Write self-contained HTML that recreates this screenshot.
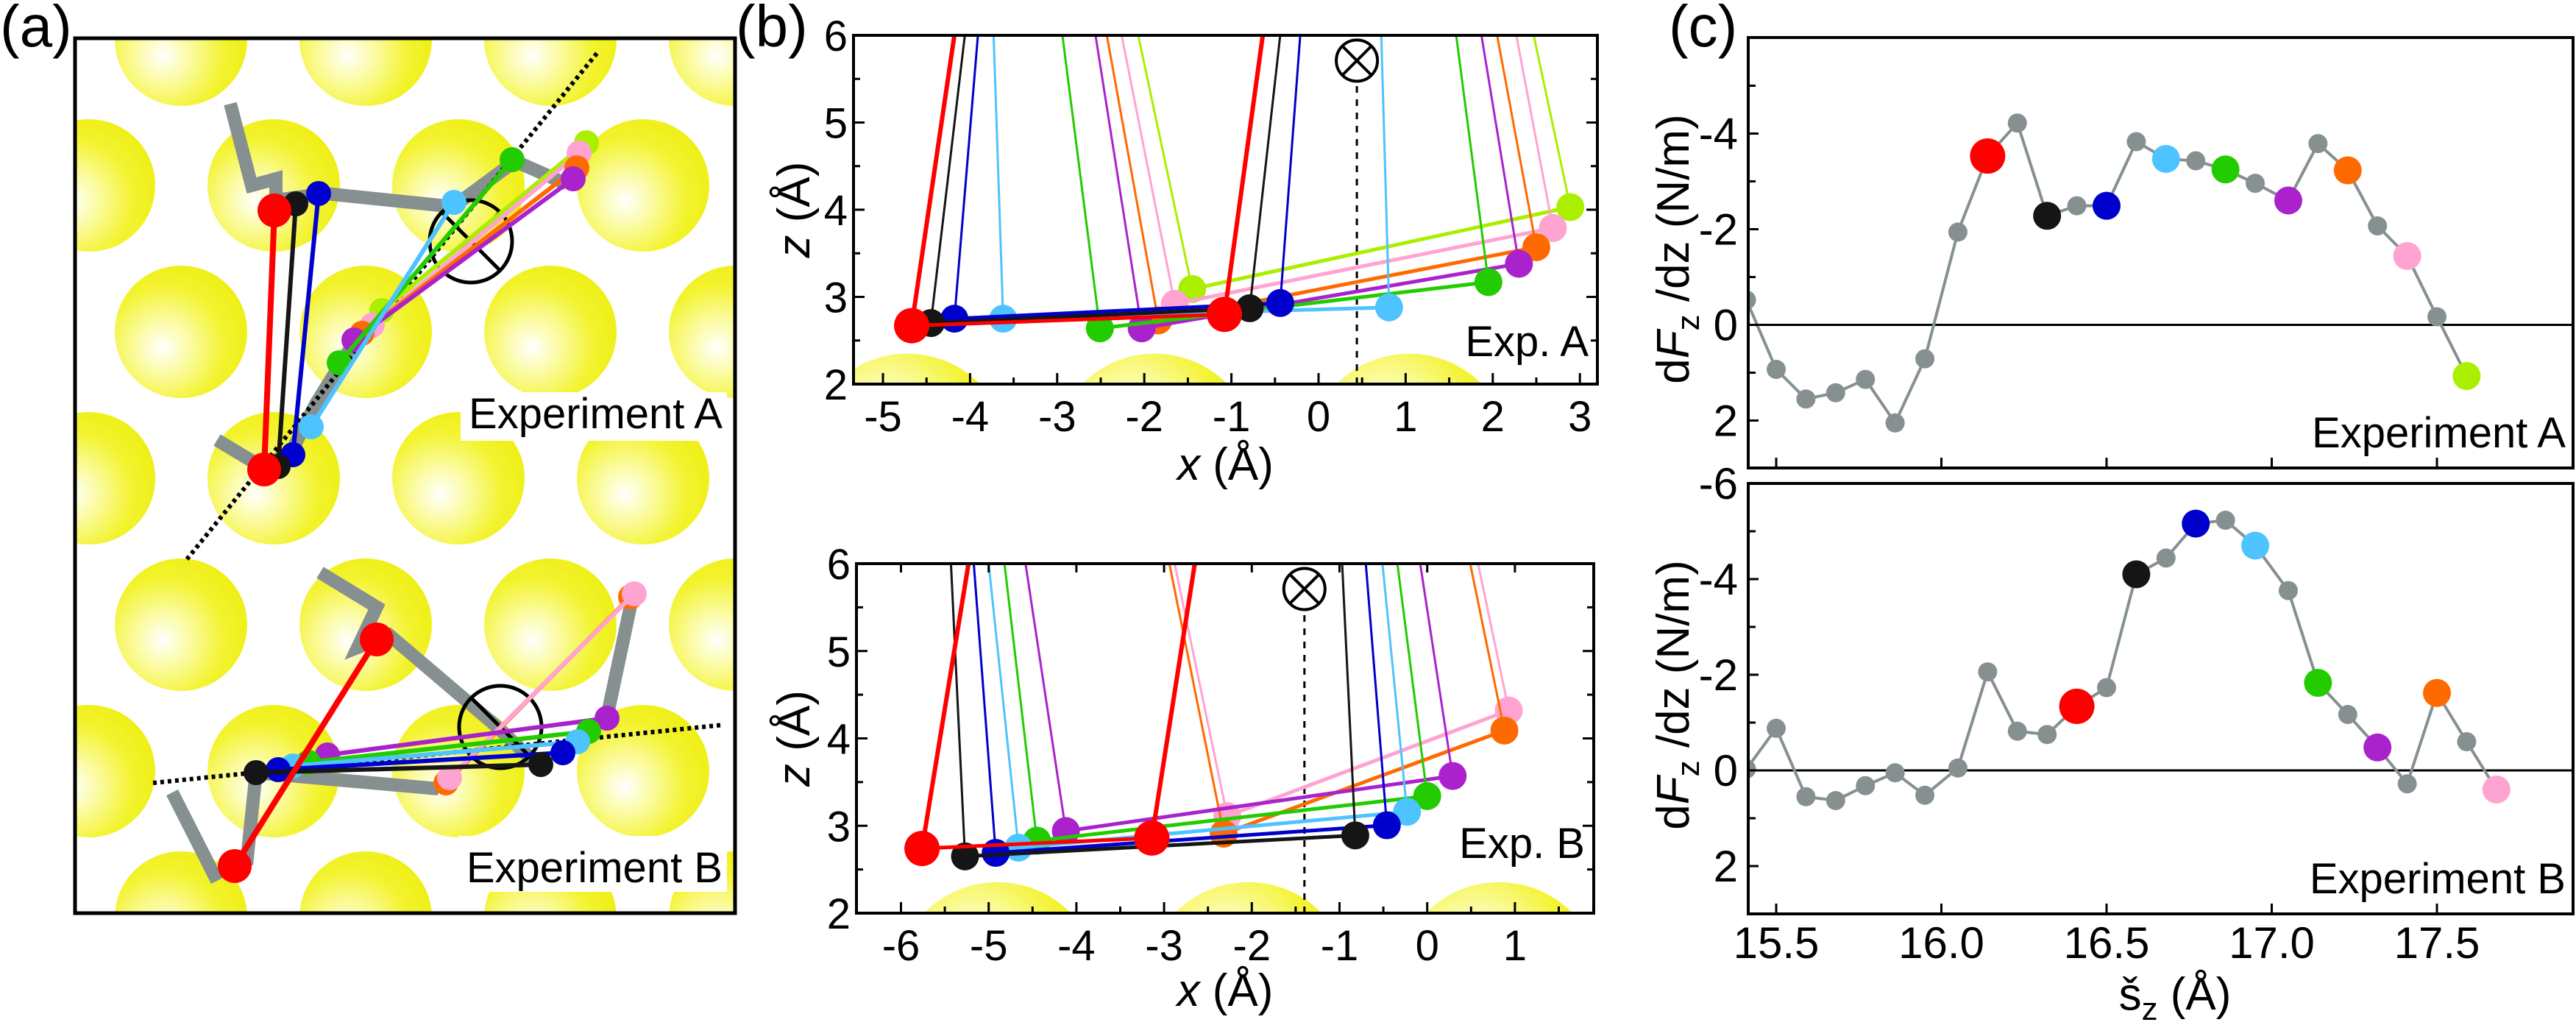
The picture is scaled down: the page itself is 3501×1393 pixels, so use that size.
<!DOCTYPE html>
<html><head><meta charset="utf-8"><style>
html,body{margin:0;padding:0;background:#fff;overflow:hidden;}
svg{display:block;font-family:"Liberation Sans",sans-serif;}
</style></head><body>
<svg id="fig" width="3501" height="1393" viewBox="0 0 3501 1393" xmlns="http://www.w3.org/2000/svg">
<defs>
<radialGradient id="gold" cx="0.38" cy="0.6" r="0.7" fx="0.36" fy="0.62">
<stop offset="0" stop-color="#ffffff"/><stop offset="0.3" stop-color="#fbfba0"/><stop offset="0.65" stop-color="#f3f330"/><stop offset="1" stop-color="#eeee10"/>
</radialGradient>
<radialGradient id="goldb" cx="0.4" cy="0.35" r="0.6" fx="0.38" fy="0.32">
<stop offset="0" stop-color="#ffffff"/><stop offset="0.35" stop-color="#fbfba0"/><stop offset="0.75" stop-color="#f3f330"/><stop offset="1" stop-color="#eeee10"/>
</radialGradient>
<clipPath id="clipA"><rect x="102" y="52" width="897" height="1189"/></clipPath>
<clipPath id="clipB1"><rect x="1160" y="48" width="1011" height="474"/></clipPath>
<clipPath id="clipB2"><rect x="1164" y="766" width="1002" height="475"/></clipPath>
<clipPath id="clipC1"><rect x="2376" y="51" width="1121" height="585"/></clipPath>
<clipPath id="clipC2"><rect x="2376" y="657" width="1121" height="585"/></clipPath>
</defs>
<text x="0" y="63" font-size="80">(a)</text>
<text x="1000" y="63" font-size="80">(b)</text>
<text x="2268" y="63" font-size="80">(c)</text>
<g id="pa"></g>
<g id="pb"></g>
<g id="pc"></g>
</svg>
<script>
// ---------- Panel (c) data ----------
const cSzA = [15.41,15.50,15.59,15.68,15.77,15.86,15.95,16.05,16.14,16.23,16.32,16.41,16.50,16.59,16.68,16.77,16.86,16.95,17.05,17.14,17.23,17.32,17.41,17.50,17.59];
const cValA = [-0.52,0.93,1.55,1.42,1.14,2.05,0.71,-1.94,-3.53,-4.22,-2.28,-2.49,-2.49,-3.83,-3.47,-3.43,-3.25,-2.96,-2.6,-3.79,-3.23,-2.07,-1.44,-0.17,1.07];
const cColA = [null,null,null,null,null,null,null,null,'red',null,'black',null,'blue',null,'cyan',null,'green',null,'purple',null,'orange',null,'pink',null,'lime'];
const cSzB = [15.41,15.50,15.59,15.68,15.77,15.86,15.95,16.05,16.14,16.23,16.32,16.41,16.50,16.59,16.68,16.77,16.86,16.95,17.05,17.14,17.23,17.32,17.41,17.50,17.59,17.68];
const cValB = [-0.03,-0.88,0.55,0.63,0.32,0.05,0.52,-0.05,-2.06,-0.82,-0.75,-1.34,-1.73,-4.1,-4.44,-5.16,-5.23,-4.70,-3.76,-1.83,-1.17,-0.48,0.28,-1.62,-0.6,0.4];
const cColB = [null,null,null,null,null,null,null,null,null,null,null,'red',null,'black',null,'blue',null,'cyan',null,'green',null,'purple',null,'orange',null,'pink'];
const cXTicks = [15.5,16.0,16.5,17.0,17.5];
const cXTickLabels = ['15.5','16.0','16.5','17.0','17.5'];
const cYTicks = [-4,-2,0,2];
const cYTickLabels = ['-4','-2','0','2'];
const cYMinor = [-5,-3,-1,1];

// ---------- Panel (b) data (Exp. A) ----------
const bOrderA = ['lime','pink','orange','purple','green','cyan','blue','black','red'];
const bAxLeft = {lime:-1.45,pink:-1.65,orange:-1.84,purple:-2.03,green:-2.51,cyan:-3.62,blue:-4.18,black:-4.45,red:-4.67};
const bAzLeft = {lime:3.09,pink:2.92,orange:2.73,purple:2.64,green:2.64,cyan:2.75,blue:2.75,black:2.70,red:2.67};
const bAxRight = {lime:2.89,pink:2.69,orange:2.50,purple:2.30,green:1.95,cyan:0.81,blue:-0.44,black:-0.79,red:-1.08};
const bAzRight = {lime:4.03,pink:3.79,orange:3.57,purple:3.38,green:3.17,cyan:2.88,blue:2.93,black:2.87,red:2.80};
const bAtopLeft = {lime:-2.07,pink:-2.26,orange:-2.43,purple:-2.56,green:-2.94,cyan:-3.73,blue:-3.91,black:-4.06,red:-4.18};
const bAtopRight = {lime:2.47,pink:2.27,orange:2.05,purple:1.87,green:1.58,cyan:0.72,blue:-0.21,black:-0.44,red:-0.64};
const bAgold = [-4.72,-1.88,1.04];
const bAmark = 0.44;
// Exp. B
const bOrderB = ['pink','orange','purple','green','cyan','blue','black','red'];
const bBxLeft = {pink:-2.28,orange:-2.32,purple:-4.12,green:-4.45,cyan:-4.66,blue:-4.92,black:-5.27,red:-5.76};
const bBzLeft = {pink:3.11,orange:2.91,purple:2.94,green:2.83,cyan:2.75,blue:2.69,black:2.65,red:2.74};
const bBxRight = {pink:0.93,orange:0.88,purple:0.29,green:0.0,cyan:-0.23,blue:-0.46,black:-0.82,red:-3.14};
const bBzRight = {pink:4.32,orange:4.09,purple:3.57,green:3.34,cyan:3.16,blue:3.006,black:2.89,red:2.86};
const bBtopLeft = {pink:-2.88,orange:-2.94,purple:-4.58,green:-4.82,cyan:-5.0,blue:-5.17,black:-5.43,red:-5.23};
const bBtopRight = {pink:0.58,orange:0.49,purple:-0.08,green:-0.34,cyan:-0.51,blue:-0.70,black:-0.97,red:-2.65};
const bBgold = [-4.9,-2.04,0.82];
const bBmark = -1.40;
const bXTicksA = [-5,-4,-3,-2,-1,0,1,2,3];
const bXTicksB = [-6,-5,-4,-3,-2,-1,0,1];
const bZTicks = [2,3,4,5,6];

const COL = {red:'#ff0000',black:'#151515',blue:'#0000cc',cyan:'#4dc3ff',green:'#22cc00',purple:'#aa22cc',orange:'#ff6a00',pink:'#ffa3d1',lime:'#aaee00',gray:'#869090'};
const NS='http://www.w3.org/2000/svg';
function mk(tag, parent, attrs){const e=document.createElementNS(NS,tag);for(const k in attrs)e.setAttribute(k,attrs[k]);parent.appendChild(e);return e;}

// ================= Panel (c) =================
const pc=document.getElementById('pc');
const cX = s => 2414 + (s-15.5)*449;
function drawC(yZero, top, bottom, sz, vals, cols, label, idx, showX){
  const cY = v => yZero + v*65;
  const g = mk('g', pc, {});
  
  
  const zl = mk('line', g, {x1:2376,x2:3497,y1:cY(0),y2:cY(0),stroke:'#000','stroke-width':3});
  
  
  const cg = mk('g', g, {'clip-path':'url(#clipC'+idx+')'});
  const pts = sz.map((s,i)=>cX(s)+','+cY(vals[i])).join(' ');
  const pl = mk('polyline', cg, {points:pts,fill:'none',stroke:COL.gray,'stroke-width':4});
  
  
  sz.forEach((s,i)=>{
    const c = cols[i];
    const r = c===null?13:(c==='red'?24:19);
    const dot = mk('circle', cg, {cx:cX(s),cy:cY(vals[i]),r:r,fill:c===null?COL.gray:COL[c]});
    
    
  });
  const fr = mk('rect', g, {x:2376,y:top,width:1121,height:bottom-top,fill:'none',stroke:'#000','stroke-width':4});
  
  
  cXTicks.forEach((t,i)=>{
    const tk = mk('line', g, {x1:cX(t),x2:cX(t),y1:bottom,y2:bottom-14,stroke:'#000','stroke-width':3});
    
    
    if(showX){
      const tl = mk('text', g, {x:cX(t),y:bottom+60,'font-size':60,'text-anchor':'middle'});
      tl.textContent = cXTickLabels[i];
      
      
    }
  });
  cYTicks.forEach((t,i)=>{
    const tk = mk('line', g, {x1:2376,x2:2390,y1:cY(t),y2:cY(t),stroke:'#000','stroke-width':3});
    
    
    const tl = mk('text', g, {x:2362,y:cY(t)+21,'font-size':60,'text-anchor':'end'});
    tl.textContent = cYTickLabels[i];
    
    
  });
  cYMinor.forEach(t=>{
    const tk = mk('line', g, {x1:2376,x2:2386,y1:cY(t),y2:cY(t),stroke:'#000','stroke-width':3});
    
    
  });
  const yl = mk('text', g, {x:0,y:0,'font-size':62,'text-anchor':'middle',transform:'translate(2295,'+((top+bottom)/2-5)+') rotate(-90)'});
  yl.innerHTML = 'd<tspan font-style="italic">F</tspan><tspan font-size="44" dy="14">z</tspan><tspan dy="-14"> /dz (N/m)</tspan>';
  
  
  const lb = mk('text', g, {x:3487,y:bottom-28,'font-size':58,'text-anchor':'end'});
  lb.textContent = label;
  
  
}
drawC(441.5, 51, 636, cSzA, cValA, cColA, 'Experiment A', 1, false);
drawC(1047, 657, 1242, cSzB, cValB, cColB, 'Experiment B', 2, true);
{
  const t6 = mk('text', pc, {x:2362,y:678,'font-size':60,'text-anchor':'end'});
  t6.textContent='-6';
  
  
  const xt = mk('text', pc, {x:2956,y:1372,'font-size':62,'text-anchor':'middle'});
  xt.innerHTML='š<tspan font-size="44" dy="14">z</tspan><tspan dy="-14"> (Å)</tspan>';
  
  
}

// ================= Panel (b) =================
const pb=document.getElementById('pb');
function drawB(cfg){
  const X = x => cfg.x0 + x*cfg.sx;
  const Z = z => cfg.top + (6-z)*cfg.sz;
  const g = mk('g', pb, {});
  
  
  const cg = mk('g', g, {'clip-path':'url(#clipB'+cfg.idx+')'});
  cfg.gold.forEach(x=>{
    const s = mk('circle', cg, {cx:X(x),cy:Z(1.18),r:1.17*cfg.sx,fill:'url(#goldb)'});
    
    
  });
  const dl = mk('line', cg, {x1:X(cfg.mark),x2:X(cfg.mark),y1:Z(2),y2:Z(5.45),stroke:'#000','stroke-width':3,'stroke-dasharray':'9 9'});
  
  
  const mg = mk('g', cg, {});
  
  
  const mx=X(cfg.mark), my=Z(5.71);
  mk('circle', mg, {cx:mx,cy:my,r:28,fill:'#fff',stroke:'#000','stroke-width':4});
  mk('line', mg, {x1:mx-19,y1:my-19,x2:mx+19,y2:my+19,stroke:'#000','stroke-width':4});
  mk('line', mg, {x1:mx+19,y1:my-19,x2:mx-19,y2:my+19,stroke:'#000','stroke-width':4});
  cfg.order.forEach(c=>{
    const w = c==='red'?6:3;
    const mol = mk('g', cg, {});
    
    
    const r1 = mk('line', mol, {x1:X(cfg.xl[c]),y1:Z(cfg.zl[c]),x2:X(cfg.tl[c]),y2:Z(6),stroke:COL[c],'stroke-width':w});
    
    
    const r2 = mk('line', mol, {x1:X(cfg.xr[c]),y1:Z(cfg.zr[c]),x2:X(cfg.tr[c]),y2:Z(6),stroke:COL[c],'stroke-width':w});
    
    
    const cn = mk('line', mol, {x1:X(cfg.xl[c]),y1:Z(cfg.zl[c]),x2:X(cfg.xr[c]),y2:Z(cfg.zr[c]),stroke:COL[c],'stroke-width':5});
    
    
    const rr = c==='red'?24:19;
    const b1 = mk('circle', mol, {cx:X(cfg.xl[c]),cy:Z(cfg.zl[c]),r:rr,fill:COL[c]});
    
    
    const b2 = mk('circle', mol, {cx:X(cfg.xr[c]),cy:Z(cfg.zr[c]),r:rr,fill:COL[c]});
    
    
  });
  const bottom = Z(2);
  const fr = mk('rect', g, {x:cfg.left,y:cfg.top,width:cfg.right-cfg.left,height:bottom-cfg.top,fill:'none',stroke:'#000','stroke-width':4});
  
  
  cfg.xticks.forEach(t=>{
    const tk = mk('line', g, {x1:X(t),x2:X(t),y1:bottom,y2:bottom-15,stroke:'#000','stroke-width':3});
    
    
    if(X(t+0.5)<cfg.right){
      const mn = mk('line', g, {x1:X(t+0.5),x2:X(t+0.5),y1:bottom,y2:bottom-9,stroke:'#000','stroke-width':3});
      
      
    }
    if(cfg.idx===2){
      const tt = mk('line', g, {x1:X(t),x2:X(t),y1:cfg.top,y2:cfg.top+12,stroke:'#000','stroke-width':3});
      
      
    }
    const tl = mk('text', g, {x:X(t),y:bottom+64,'font-size':58,'text-anchor':'middle'});
    tl.textContent = String(t);
    
    
  });
  bZTicks.forEach(t=>{
    const tl = mk('text', g, {x:cfg.left-8,y:Z(t)+21,'font-size':58,'text-anchor':'end'});
    tl.textContent = String(t);
    
    
    [cfg.left, cfg.right].forEach((ex,k)=>{
      const d = k===0?1:-1;
      const tk = mk('line', g, {x1:ex,x2:ex+d*15,y1:Z(t),y2:Z(t),stroke:'#000','stroke-width':3});
      
      
      if(t<6){
        const mn = mk('line', g, {x1:ex,x2:ex+d*9,y1:Z(t+0.5),y2:Z(t+0.5),stroke:'#000','stroke-width':3});
        
        
      }
    });
  });
  const zt = mk('text', g, {x:0,y:0,'font-size':62,'text-anchor':'middle',transform:'translate(1100,'+((cfg.top+bottom)/2)+') rotate(-90)'});
  zt.innerHTML = '<tspan font-style="italic">z</tspan> (Å)';
  
  
  const xt = mk('text', g, {x:(cfg.left+cfg.right)/2,y:bottom+cfg.titleOff,'font-size':62,'text-anchor':'middle'});
  xt.innerHTML = '<tspan font-style="italic">x</tspan> (Å)';
  
  
  const lb = mk('text', g, {x:cfg.right-12,y:cfg.labelY,'font-size':58,'text-anchor':'end'});
  lb.textContent = cfg.label;
  
  
}
drawB({idx:1,x0:1792,sx:118.4,top:48,sz:118.5,left:1160,right:2171,order:bOrderA,xl:bAxLeft,zl:bAzLeft,xr:bAxRight,zr:bAzRight,tl:bAtopLeft,tr:bAtopRight,gold:bAgold,mark:bAmark,xticks:bXTicksA,label:'Exp. A',labelY:484,titleOff:130});
drawB({idx:2,x0:1939.7,sx:119.2,top:766,sz:118.75,left:1164,right:2166,order:bOrderB,xl:bBxLeft,zl:bBzLeft,xr:bBxRight,zr:bBzRight,tl:bBtopLeft,tr:bBtopRight,gold:bBgold,mark:bBmark,xticks:bXTicksB,label:'Exp. B',labelY:1166,titleOff:126});

// ================= Panel (a) =================
const pa=document.getElementById('pa');
const aRowY = [54,252,451,650,849,1048,1247];
const aColOdd = [-5,246,497,748,999];
const aColEven = [121,372,623,874,1125];
const aGrayPaths = [
  [[313,141],[342,252],[375,243],[375,272],[442,263],[616,281],[700,219],[770,250]],
  [[295,598],[355,634],[395,616],[429,549],[462,496],[482,464]],
  [[435,778],[512,825],[486,880],[529,863],[670,983],[723,1032]],
  [[596,1072],[348,1050],[335,1175]],
  [[234,1077],[295,1197]],
  [[824,979],[860,809]]
];
const aMolA = {lime:[[797,194],[519,422]],pink:[[787,208],[506,442]],orange:[[784,228],[492,453]],purple:[[779,243],[481,462]],green:[[696,217],[461,493]],cyan:[[617,275],[423,580]],blue:[[433,263],[398,618]],black:[[402,277],[378,634]],red:[[373,286],[359,638]]};
const aMolB = {orange:[[857,811],[606,1064]],pink:[[862,807],[611,1057]],purple:[[445,1026],[825,976]],green:[[419,1036],[800,994]],cyan:[[398,1041],[785,1008]],blue:[[378,1046],[765,1023]],black:[[348,1050],[735,1039]],red:[[512,869],[319,1177]]};
const aDotA = [[254,760],[814,69]];
const aDotB = [[208,1064],[984,985]];
const aMarkA = [640,328];
const aMarkB = [680,988];

{
  const cg = mk('g', pa, {'clip-path':'url(#clipA)'});
  const lat = mk('g', cg, {});
  
  
  aRowY.forEach((y,ri)=>{
    (ri%2===0?aColOdd:aColEven).forEach(x=>{
      const s = mk('circle', lat, {cx:x,cy:y,r:90,fill:'url(#gold)'});
      
      
    });
  });
  aGrayPaths.forEach(p=>{
    const pl = mk('polyline', cg, {points:p.map(q=>q.join(',')).join(' '),fill:'none',stroke:COL.gray,'stroke-width':18,'stroke-linejoin':'miter'});
    
    
  });
  [aDotA,aDotB].forEach(d=>{
    const l = mk('line', cg, {x1:d[0][0],y1:d[0][1],x2:d[1][0],y2:d[1][1],stroke:'#000','stroke-width':6,'stroke-dasharray':'5 5'});
    
    
  });
  [aMarkA,aMarkB].forEach(m=>{
    const mg = mk('g', cg, {});
    
    
    mk('circle', mg, {cx:m[0],cy:m[1],r:56,fill:'none',stroke:'#000','stroke-width':5});
    mk('line', mg, {x1:m[0]-40,y1:m[1]-40,x2:m[0]+40,y2:m[1]+40,stroke:'#000','stroke-width':5});
    mk('line', mg, {x1:m[0]+40,y1:m[1]-40,x2:m[0]-40,y2:m[1]+40,stroke:'#000','stroke-width':5});
  });
  [aMolA,aMolB].forEach(M=>{
    Object.keys(M).forEach(c=>{
      const a=M[c][0], b=M[c][1];
      const mol = mk('g', cg, {});
      
      
      mk('line', mol, {x1:a[0],y1:a[1],x2:b[0],y2:b[1],stroke:COL[c],'stroke-width':c==='red'?8:6});
      const r = c==='red'?23:17;
      mk('circle', mol, {cx:a[0],cy:a[1],r:r,fill:COL[c]});
      mk('circle', mol, {cx:b[0],cy:b[1],r:r,fill:COL[c]});
    });
  });
  const la = mk('rect', cg, {x:626,y:533,width:362,height:66,fill:'#fff'});
  
  
  const ta = mk('text', cg, {x:982,y:582,'font-size':58,'text-anchor':'end'});
  ta.textContent='Experiment A';
  
  
  const lb = mk('rect', cg, {x:623,y:1136,width:365,height:76,fill:'#fff'});
  
  
  const tb = mk('text', cg, {x:982,y:1199,'font-size':58,'text-anchor':'end'});
  tb.textContent='Experiment B';
  
  
  const fr = mk('rect', pa, {x:102,y:52,width:897,height:1189,fill:'none',stroke:'#000','stroke-width':5});
  
  
}
</script>
</body></html>
